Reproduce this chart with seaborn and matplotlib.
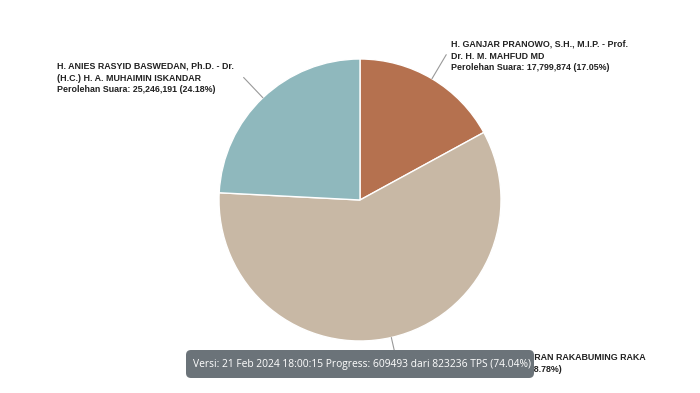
import numpy as np
import matplotlib.pyplot as plt
import seaborn as sns
from matplotlib.patches import FancyBboxPatch

# data (clockwise from 12 o'clock)
candidates = [
    "H. GANJAR PRANOWO, S.H., M.I.P. - Prof.\nDr. H. M. MAHFUD MD",
    "H. PRABOWO SUBIANTO - GIBRAN RAKABUMING RAKA",
    "H. ANIES RASYID BASWEDAN, Ph.D. - Dr.\n(H.C.) H. A. MUHAIMIN ISKANDAR",
]
votes = [17799874, 61358021, 25246191]
percents = [17.05, 58.78, 24.18]
colors = ["#b5714f", "#c8b8a5", "#8fb8bd"]
tooltip_text = "Versi: 21 Feb 2024 18:00:15 Progress: 609493 dari 823236 TPS (74.04%)"

W, H = 700, 393
CX, CY, R = 360, H - 200, 141

sns.set_theme(style="white")
plt.rcParams["font.family"] = ["Liberation Sans", "DejaVu Sans"]

fig = plt.figure(figsize=(7, 3.93), dpi=100)
ax = fig.add_axes([0, 0, 1, 1])

wedges, _ = ax.pie(
    votes,
    colors=colors,
    startangle=90,
    counterclock=False,
    center=(CX, CY),
    radius=R,
    wedgeprops={"edgecolor": "white", "linewidth": 1},
    frame=True,
)
ax.set_xlim(0, W)
ax.set_ylim(0, H)
ax.set_aspect("equal")
ax.axis("off")

# label positions (text left/top) per slice
label_pos = [(451, H - 40), (403, H - 353), (57, H - 62)]

for w, name, v, p, (lx, ly) in zip(wedges, candidates, votes, percents, label_pos):
    mid = np.deg2rad((w.theta1 + w.theta2) / 2)
    x0 = CX + R * np.cos(mid)
    y0 = CY + R * np.sin(mid)
    x1 = CX + (R + 28) * np.cos(mid)
    y1 = CY + (R + 28) * np.sin(mid)
    ax.plot([x0, x1], [y0, y1], color="#999999", lw=0.8)
    text = f"{name}\nPerolehan Suara: {v:,} ({p:.2f}%)"
    ax.text(lx, ly, text, ha="left", va="top", fontsize=6.4, fontweight="bold",
            color="#222222", linespacing=1.38)

# tooltip box drawn over the bottom label, as in the source screenshot
box = FancyBboxPatch((186, H - 378), 348, 28,
                     boxstyle="round,pad=0,rounding_size=5",
                     facecolor="#6b7379", edgecolor="none", zorder=5)
ax.add_patch(box)
ax.text(193, H - 364, tooltip_text, ha="left", va="center", fontsize=7.35,
        color="white", family=["Open Sans", "DejaVu Sans"], zorder=6)

fig.savefig("out.png", dpi=100)
